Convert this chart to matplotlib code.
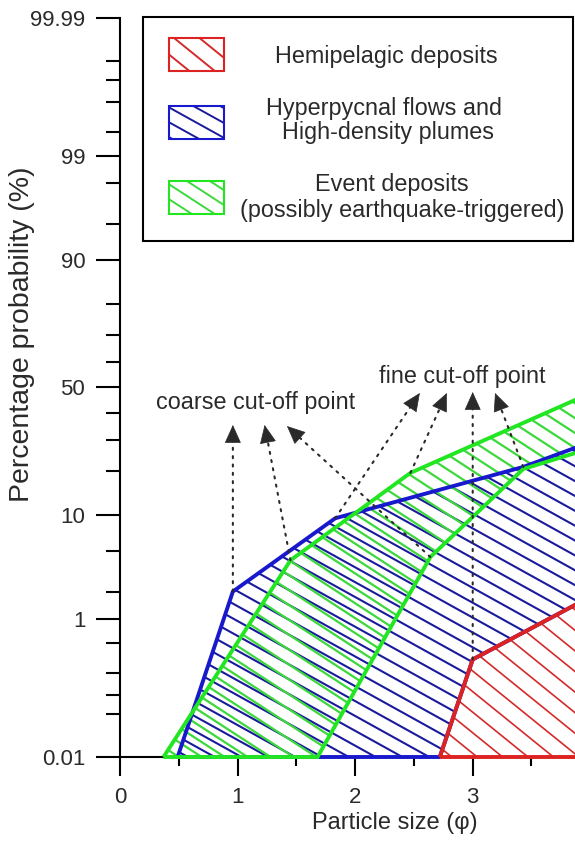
import numpy as np
import matplotlib
matplotlib.use("Agg")
import matplotlib.pyplot as plt
from matplotlib.patches import Polygon, Rectangle
from matplotlib.collections import LineCollection
from matplotlib.transforms import Affine2D
from statistics import NormalDist

plt.rcParams["font.family"] = ["Liberation Sans", "DejaVu Sans"]

# grain-size envelopes: particle size (phi) vs cumulative probability (%)
hemi_x = [2.72, 3.00, 3.90, 3.90]
hemi_y = [0.01, 0.31, 1.5, 0.01]

hyper_x = [0.49, 0.96, 1.83, 3.43, 3.90, 3.90, 3.00, 2.72]
hyper_y = [0.01, 2.0, 9.4, 21.2, 27.6, 1.5, 0.31, 0.01]

event_x = [0.37, 1.45, 2.47, 3.90, 3.90, 3.43, 2.64, 1.68]
event_y = [0.01, 4.1, 19.5, 45.6, 25.8, 20.6, 4.4, 0.01]

# cut-off arrows (tail = point on the envelope, tip = near the label)
coarse_tail = [(0.96, 2.0), (1.45, 4.1), (2.64, 4.4)]
coarse_tip = [(0.96, 35.3), (1.23, 35.3), (1.42, 34.9)]
fine_tail = [(1.83, 9.4), (2.47, 19.5), (3.00, 0.31), (3.43, 21.2)]
fine_tip = [(2.55, 47.8), (2.78, 47.8), (3.00, 48.2), (3.19, 47.8)]

y_major = [0.01, 1, 10, 50, 90, 99, 99.99]
y_major_labels = ["0.01", "1", "10", "50", "90", "99", "99.99"]
y_minor = [0.05, 0.1, 0.2, 0.5, 2, 5, 20, 30, 40, 60, 70, 80, 95, 98, 99.5, 99.8, 99.9, 99.95]
x_major = [0, 1, 2, 3]
x_minor = [0.5, 1.5, 2.5, 3.5]

RED, RED_H = "#dd2222", "#d42a2a"
BLUE, BLUE_H = "#1818cc", "#1a1a9c"
GREEN, GREEN_H = "#22e622", "#3cd83c"
TXT = "#2a2a2a"

W, H = 575, 841
fig = plt.figure(figsize=(W / 100, H / 100), dpi=100)
ax = fig.add_axes([120 / W, 84 / H, 455 / W, 739 / H])
# pixel coords of the figure, origin top-left
pix = Affine2D().scale(1 / W, -1 / H).translate(0, 1) + fig.transFigure

nd = NormalDist()
probit = np.vectorize(lambda p: nd.inv_cdf(min(max(p / 100.0, 1e-9), 1 - 1e-9)), otypes=[float])
inv_probit = np.vectorize(lambda z: nd.cdf(z) * 100.0, otypes=[float])
ax.set_yscale("function", functions=(probit, inv_probit))
ax.set_xlim(0, 3.87)
ax.set_ylim(0.01, 99.99)


def add_hatch(clip, angle, spacing, color, lw, z):
    a = np.deg2rad(angle)
    d = np.array([np.cos(a), np.sin(a)])
    n = np.array([-np.sin(a), np.cos(a)])
    L = 1600
    segs = [[c * n - L * d, c * n + L * d] for c in np.arange(-L, L, spacing)]
    lc = LineCollection(segs, colors=color, linewidths=lw, transform=pix, zorder=z)
    ax.add_collection(lc, autolim=False)
    lc.set_clip_path(clip)


def area(xs, ys, edge, hcol, angle, spacing, hlw, z):
    poly = Polygon(np.column_stack([xs, ys]), closed=True, facecolor="none",
                   edgecolor=edge, lw=2.8, zorder=z + 3, clip_on=False)
    ax.add_patch(poly)
    add_hatch(poly, angle, spacing, hcol, hlw, z)


area(hyper_x, hyper_y, BLUE, BLUE_H, 29, 13, 1.5, 1.0)
area(event_x, event_y, GREEN, GREEN_H, 33, 12.5, 1.6, 1.1)
area(hemi_x, hemi_y, RED, RED_H, 39, 16, 1.2, 1.2)

# dotted cut-off arrows with solid heads
for tail, tip in list(zip(coarse_tail, coarse_tip)) + list(zip(fine_tail, fine_tip)):
    p0 = ax.transData.transform(tail)
    p1 = ax.transData.transform(tip)
    u = (p1 - p0) / np.hypot(*(p1 - p0))
    base = ax.transData.inverted().transform(p1 - 15 * u)
    ax.annotate("", xy=base, xytext=tail,
                arrowprops=dict(arrowstyle="-", lw=1.5, linestyle=(0, (1, 3)),
                                color=TXT, shrinkA=0, shrinkB=0), zorder=6)
    ax.annotate("", xy=tip, xytext=base,
                arrowprops=dict(arrowstyle="-|>,head_length=0.6,head_width=0.27",
                                mutation_scale=20, lw=0.5, color=TXT,
                                shrinkA=0, shrinkB=0), zorder=6)
ax.text(1.15, 44.0, "coarse cut-off point", ha="center", va="center", fontsize=16.8, color=TXT)
ax.text(2.91, 54.6, "fine cut-off point", ha="center", va="center", fontsize=16.8, color=TXT)

# axes styling
ax.set_yticks(y_major)
ax.set_yticklabels(y_major_labels)
ax.set_yticks(y_minor, minor=True)
ax.set_xticks(x_major)
ax.set_xticks(x_minor, minor=True)
ax.tick_params(axis="y", which="major", length=17, width=1.5, pad=8, labelsize=16, labelcolor=TXT)
ax.tick_params(axis="y", which="minor", length=10, width=1.5)
ax.tick_params(axis="x", which="major", length=13.5, width=1.5, pad=8, labelsize=16, labelcolor=TXT)
ax.tick_params(axis="x", which="minor", length=6.5, width=1.5)
for s in ["top", "right"]:
    ax.spines[s].set_visible(False)
for s in ["left", "bottom"]:
    ax.spines[s].set_linewidth(1.5)

ax.set_xlabel("Particle size (φ)", fontsize=17, color=TXT)
ax.xaxis.set_label_coords(0.604, -0.0893)
ax.xaxis.label.set_va("center")
ax.set_ylabel("Percentage probability (%)", fontsize=20.5, color=TXT)
ax.yaxis.set_label_coords(-0.2154, 0.5724)
ax.yaxis.label.set_va("center")

# legend box drawn by hand
ax.add_patch(Rectangle((143, 17), 430, 224, transform=pix, facecolor="white",
                       edgecolor="black", lw=1.5, zorder=8, clip_on=False))
leg = [(38, RED, RED_H, 39, 16), (106, BLUE, BLUE_H, 29, 13), (181, GREEN, GREEN_H, 33, 12.5)]
for top, ec, hc, ang, sp in leg:
    r = Rectangle((169, top), 55, 33, transform=pix, facecolor="none",
                  edgecolor=ec, lw=1.5, zorder=10, clip_on=False)
    ax.add_patch(r)
    add_hatch(r, ang, sp, hc, 1.4, 9)
legend_txt = [(386, 57, "Hemipelagic deposits"), (384, 108, "Hyperpycnal flows and"),
              (388, 133, "High-density plumes"), (392, 185, "Event deposits"),
              (402, 210, "(possibly earthquake-triggered)")]
for x, y, s in legend_txt:
    ax.text(x, y, s, transform=pix, ha="center", va="center", fontsize=16.8, color=TXT, zorder=11)

fig.savefig("out.png", dpi=100)
